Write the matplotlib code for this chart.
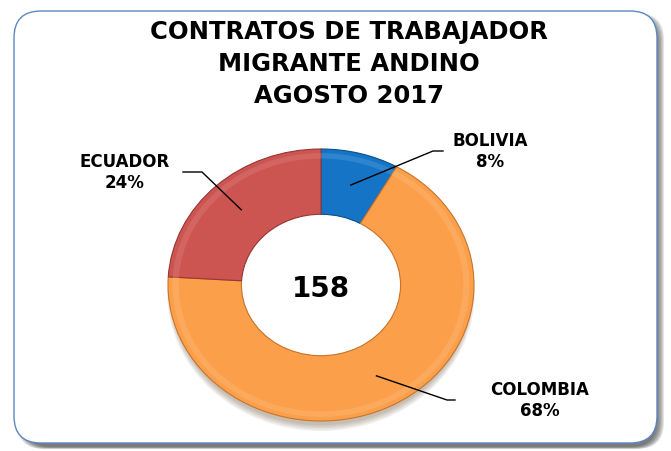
import numpy as np
import matplotlib
matplotlib.use("Agg")
import matplotlib.pyplot as plt
from matplotlib.patches import FancyBboxPatch, Ellipse
from matplotlib.lines import Line2D

# data
countries = ["BOLIVIA", "COLOMBIA", "ECUADOR"]
contracts = [13, 107, 38]
pct_labels = ["8%", "68%", "24%"]
total_label = "158"
title_lines = ["CONTRATOS DE TRABAJADOR", "MIGRANTE ANDINO", "AGOSTO 2017"]

colors = ["#1574c6", "#fb9f4b", "#cc5451"]
edge_colors = ["#0b4f8c", "#c8742c", "#973634"]
light_colors = ["#5aa3e0", "#fdc07f", "#e08683"]

W, H = 671, 452
fig = plt.figure(figsize=(W / 100, H / 100), dpi=100)
fig.patch.set_facecolor("white")

def fx(px):
    return px / W

def fy(py):
    # py measured from the top of the picture
    return 1 - py / H

# frame with soft grey shadow on the right / bottom
for i in range(8):
    sh = FancyBboxPatch((fx(17 + i), fy(450 - i * 0.3)), fx(647 - 2 * i), (436 - i) / H,
                        boxstyle="round,pad=0,rounding_size=0.04", transform=fig.transFigure,
                        facecolor=(0.3, 0.3, 0.3, 0.15), edgecolor="none",
                        mutation_aspect=W / H, zorder=-3)
    fig.patches.append(sh)
frame = FancyBboxPatch((fx(14), fy(444)), fx(643), 432 / H,
                       boxstyle="round,pad=0,rounding_size=0.04", transform=fig.transFigure,
                       facecolor="white", edgecolor="#5b87c2", lw=1.0, mutation_aspect=W / H,
                       zorder=-2)
fig.patches.append(frame)

# title
for i, line in enumerate(title_lines):
    fig.text(fx(349), fy(32 + i * 32), line, ha="center", va="center",
             fontsize=17.5, fontweight="bold", family="DejaVu Sans", color="black")

# donut (slightly flattened ellipse, so aspect is left free)
ax = fig.add_axes([fx(168), fy(422), 306 / W, 272 / H])
ax.patch.set_alpha(0)
ax.axis("off")

# soft shadow under the ring, mostly at the bottom
for k in range(5):
    ax.add_patch(Ellipse((0.0, -0.035 - 0.006 * k), 1.97 + 0.01 * k, 1.99 + 0.01 * k,
                         facecolor=(0.35, 0.25, 0.15, 0.08), edgecolor="none",
                         zorder=0, clip_on=False))

wedges, _ = ax.pie(contracts, colors=colors, startangle=90, counterclock=False,
                   radius=1.0, wedgeprops=dict(width=0.48, linewidth=0.8))
for w, ec in zip(wedges, edge_colors):
    w.set_edgecolor(ec)
    w.set_zorder(2)
    w.set_clip_on(False)

# bevel: faint light band just inside the outer edge of each slice
bevel, _ = ax.pie(contracts, colors=light_colors, startangle=90, counterclock=False,
                  radius=0.97, wedgeprops=dict(width=0.04, linewidth=0, alpha=0.35))
for b in bevel:
    b.set_zorder(3)
ax.set_aspect("auto")
ax.set_xlim(-1.0, 1.0)
ax.set_ylim(-1.0, 1.0)

# white hole on top of the shadow
ax.add_patch(Ellipse((0, 0), 1.04, 1.04, facecolor="white", edgecolor="none", zorder=1))

ax.text(0, -0.02, total_label, ha="center", va="center", fontsize=20,
        fontweight="bold", family="DejaVu Sans", color="black", zorder=6)

# labels with leader lines
label_pos = [(490, 152), (540, 401), (125, 173)]
elbow = [(433, 152), (447, 401), (202, 173)]
line_end = [(443, 152), (455, 401), (183, 173)]
fig.canvas.draw()
fracs = np.array(contracts) / sum(contracts)
start = 90.0
for i, name in enumerate(countries):
    mid = start - fracs[i] * 360 / 2
    start -= fracs[i] * 360
    r = 0.76
    x0, y0 = ax.transData.transform((r * np.cos(np.radians(mid)), r * np.sin(np.radians(mid))))
    xs = [x0, elbow[i][0], line_end[i][0]]
    ys = [y0, H - elbow[i][1], H - line_end[i][1]]
    fig.lines.append(Line2D(xs, ys, transform=None, color="black", lw=1.0, zorder=5))
    lx, ly = label_pos[i]
    fig.text(fx(lx), fy(ly - 11), name, ha="center", va="center", fontsize=12,
             fontweight="bold", family="DejaVu Sans")
    fig.text(fx(lx), fy(ly + 10), pct_labels[i], ha="center", va="center", fontsize=12,
             fontweight="bold", family="DejaVu Sans")

fig.savefig("out.png", dpi=100)
